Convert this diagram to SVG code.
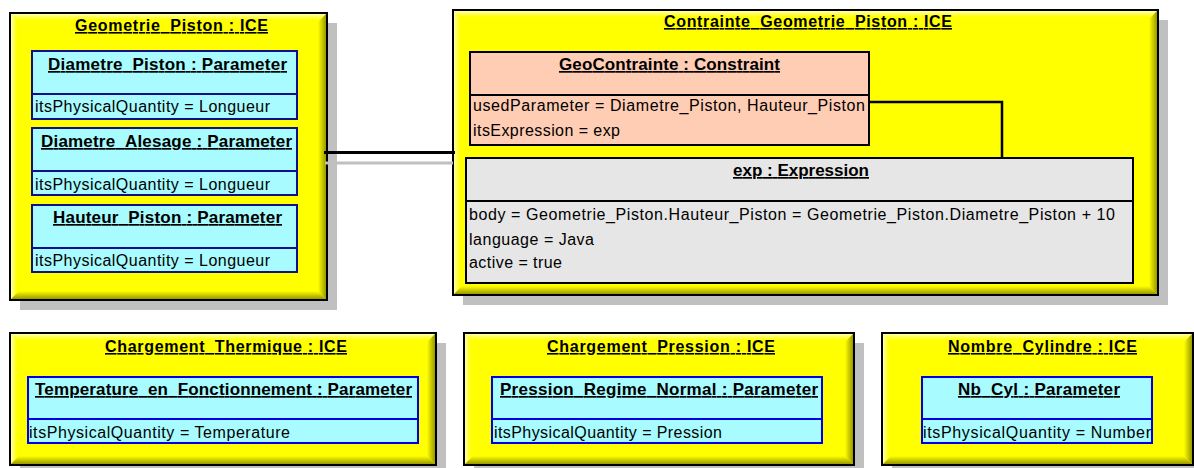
<svg xmlns="http://www.w3.org/2000/svg" width="1194" height="468" viewBox="0 0 1194 468">
<defs>
<linearGradient id="gR" x1="0" y1="0" x2="1" y2="0"><stop offset="0" stop-color="#FFFF00"/><stop offset="1" stop-color="#8C8C00"/></linearGradient>
<linearGradient id="gB" x1="0" y1="0" x2="0" y2="1"><stop offset="0" stop-color="#FFFF00"/><stop offset="1" stop-color="#8C8C00"/></linearGradient>
<linearGradient id="gL" x1="0" y1="0" x2="1" y2="0"><stop offset="0" stop-color="#FFFFC8"/><stop offset="1" stop-color="#FFFF00"/></linearGradient>
<linearGradient id="gT" x1="0" y1="0" x2="0" y2="1"><stop offset="0" stop-color="#FFFFC8"/><stop offset="1" stop-color="#FFFF00"/></linearGradient>
</defs>
<style>
.sh{fill:#C0C0C0}
.fr{fill:#FFFF00}
.bd{fill:none;stroke:#000;stroke-width:2}
.ft{font-family:"Liberation Sans",Arial,sans-serif;font-size:16px;font-weight:bold;fill:#000;text-decoration:underline}
.it{font-family:"Liberation Sans",Arial,sans-serif;font-size:17px;font-weight:bold;fill:#000;text-decoration:underline}
.at{font-family:"Liberation Sans",Arial,sans-serif;font-size:16px;fill:#000}
.cy{fill:#A8FCFF;stroke:#10108C;stroke-width:2}
.cy2{fill:#A8FCFF;stroke:#0000E6;stroke-width:2}
.dv{stroke:#10108C;stroke-width:2}
.dv2{stroke:#0000E6;stroke-width:2}
.sa{fill:#FFCCB4;stroke:#000;stroke-width:2}
.gr{fill:#E6E6E6;stroke:#000;stroke-width:2}
.dk{stroke:#000;stroke-width:2}
.cn{fill:none;stroke:#000;stroke-width:3}
.cs{fill:none;stroke:#C0C0C0;stroke-width:3}
</style>

<g id="geometrie_piston">
<rect class="sh" x="20" y="23" width="317" height="287"/>
<rect class="fr" x="10" y="13" width="317" height="287"/>
<polygon fill="url(#gL)" points="10,13 17,20 17,293 10,300"/>
<polygon fill="url(#gT)" points="10,13 327,13 320,20 17,20"/>
<polygon fill="url(#gR)" points="318,22 327,13 327,300 318,291"/>
<polygon fill="url(#gB)" points="10,300 19,291 318,291 327,300"/>
<rect class="bd" x="10" y="13" width="317" height="287"/>
<text class="ft" x="75" y="31" textLength="193">Geometrie_Piston : ICE</text>
<g id="diametre_piston">
<rect class="cy" x="32" y="51" width="265" height="68"/>
<line class="dv" x1="32" y1="94" x2="297" y2="94"/>
<text class="it" x="48" y="70" textLength="239">Diametre_Piston : Parameter</text>
<text class="at" x="35" y="112" textLength="235">itsPhysicalQuantity = Longueur</text>
</g>
<g id="diametre_alesage">
<rect class="cy" x="32" y="128" width="265" height="67"/>
<line class="dv" x1="32" y1="171" x2="297" y2="171"/>
<text class="it" x="41" y="147" textLength="251">Diametre_Alesage : Parameter</text>
<text class="at" x="35" y="190" textLength="235">itsPhysicalQuantity = Longueur</text>
</g>
<g id="hauteur_piston">
<rect class="cy" x="32" y="205" width="265" height="67"/>
<line class="dv" x1="32" y1="248" x2="297" y2="248"/>
<text class="it" x="53" y="223" textLength="229">Hauteur_Piston : Parameter</text>
<text class="at" x="35" y="266" textLength="235">itsPhysicalQuantity = Longueur</text>
</g>
</g>

<g id="contrainte_geometrie_piston">
<rect class="sh" x="463" y="20" width="705" height="285"/>
<rect class="fr" x="453" y="10" width="705" height="285"/>
<polygon fill="url(#gL)" points="453,10 460,17 460,288 453,295"/>
<polygon fill="url(#gT)" points="453,10 1158,10 1151,17 460,17"/>
<polygon fill="url(#gR)" points="1149,19 1158,10 1158,295 1149,286"/>
<polygon fill="url(#gB)" points="453,295 462,286 1149,286 1158,295"/>
<rect class="bd" x="453" y="10" width="705" height="285"/>
<text class="ft" x="664" y="27" textLength="288">Contrainte_Geometrie_Piston : ICE</text>
<g id="geocontrainte">
<rect class="sa" x="470" y="52" width="399" height="93"/>
<line class="dk" x1="470" y1="95" x2="869" y2="95"/>
<text class="it" x="559" y="70" textLength="221">GeoContrainte : Constraint</text>
<text class="at" x="473" y="111" textLength="392">usedParameter = Diametre_Piston, Hauteur_Piston</text>
<text class="at" x="473" y="136" textLength="147">itsExpression = exp</text>
</g>
<g id="exp">
<rect class="gr" x="466" y="158" width="667" height="125"/>
<line class="dk" x1="466" y1="201" x2="1133" y2="201"/>
<text class="it" x="733" y="176" textLength="136">exp : Expression</text>
<text class="at" x="469" y="220" textLength="646">body = Geometrie_Piston.Hauteur_Piston = Geometrie_Piston.Diametre_Piston + 10</text>
<text class="at" x="469" y="245" textLength="125">language = Java</text>
<text class="at" x="469" y="268" textLength="93">active = true</text>
</g>
</g>

<g id="chargement_thermique">
<rect class="sh" x="20" y="343" width="426" height="132"/>
<rect class="fr" x="10" y="333" width="426" height="132"/>
<polygon fill="url(#gL)" points="10,333 17,340 17,458 10,465"/>
<polygon fill="url(#gT)" points="10,333 436,333 429,340 17,340"/>
<polygon fill="url(#gR)" points="427,342 436,333 436,465 427,456"/>
<polygon fill="url(#gB)" points="10,465 19,456 427,456 436,465"/>
<rect class="bd" x="10" y="333" width="426" height="132"/>
<text class="ft" x="105" y="352" textLength="242">Chargement_Thermique : ICE</text>
<g id="temperature_en_fonctionnement">
<rect class="cy2" x="28" y="377" width="390" height="66"/>
<line class="dv2" x1="28" y1="419" x2="418" y2="419"/>
<text class="it" x="35" y="395" textLength="377">Temperature_en_Fonctionnement : Parameter</text>
<text class="at" x="29" y="438" textLength="261">itsPhysicalQuantity = Temperature</text>
</g>
</g>

<g id="chargement_pression">
<rect class="sh" x="474" y="343" width="390" height="132"/>
<rect class="fr" x="464" y="333" width="390" height="132"/>
<polygon fill="url(#gL)" points="464,333 471,340 471,458 464,465"/>
<polygon fill="url(#gT)" points="464,333 854,333 847,340 471,340"/>
<polygon fill="url(#gR)" points="845,342 854,333 854,465 845,456"/>
<polygon fill="url(#gB)" points="464,465 473,456 845,456 854,465"/>
<rect class="bd" x="464" y="333" width="390" height="132"/>
<text class="ft" x="547" y="352" textLength="228">Chargement_Pression : ICE</text>
<g id="pression_regime_normal">
<rect class="cy2" x="492" y="377" width="330" height="66"/>
<line class="dv2" x1="492" y1="419" x2="822" y2="419"/>
<text class="it" x="500" y="395" textLength="318">Pression_Regime_Normal : Parameter</text>
<text class="at" x="494" y="438" textLength="228">itsPhysicalQuantity = Pression</text>
</g>
</g>

<g id="nombre_cylindre">
<rect class="sh" x="892" y="343" width="311" height="132"/>
<rect class="fr" x="882" y="333" width="311" height="132"/>
<polygon fill="url(#gL)" points="882,333 889,340 889,458 882,465"/>
<polygon fill="url(#gT)" points="882,333 1193,333 1186,340 889,340"/>
<polygon fill="url(#gR)" points="1184,342 1193,333 1193,465 1184,456"/>
<polygon fill="url(#gB)" points="882,465 891,456 1184,456 1193,465"/>
<rect class="bd" x="882" y="333" width="311" height="132"/>
<text class="ft" x="948" y="352" textLength="189">Nombre_Cylindre : ICE</text>
<g id="nb_cyl">
<rect class="cy2" x="922" y="377" width="230" height="66"/>
<line class="dv2" x1="922" y1="419" x2="1152" y2="419"/>
<text class="it" x="958" y="395" textLength="162">Nb_Cyl : Parameter</text>
<text class="at" x="923" y="438" textLength="228">itsPhysicalQuantity = Number</text>
</g>
</g>

<g id="connectors">
<line class="cs" x1="325" y1="163" x2="453" y2="163"/>
<line class="cn" x1="324" y1="152.5" x2="455" y2="152.5"/>
<polyline class="cn" style="stroke-width:2.5" points="869,102 1002,102 1002,158"/>
</g>
</svg>
